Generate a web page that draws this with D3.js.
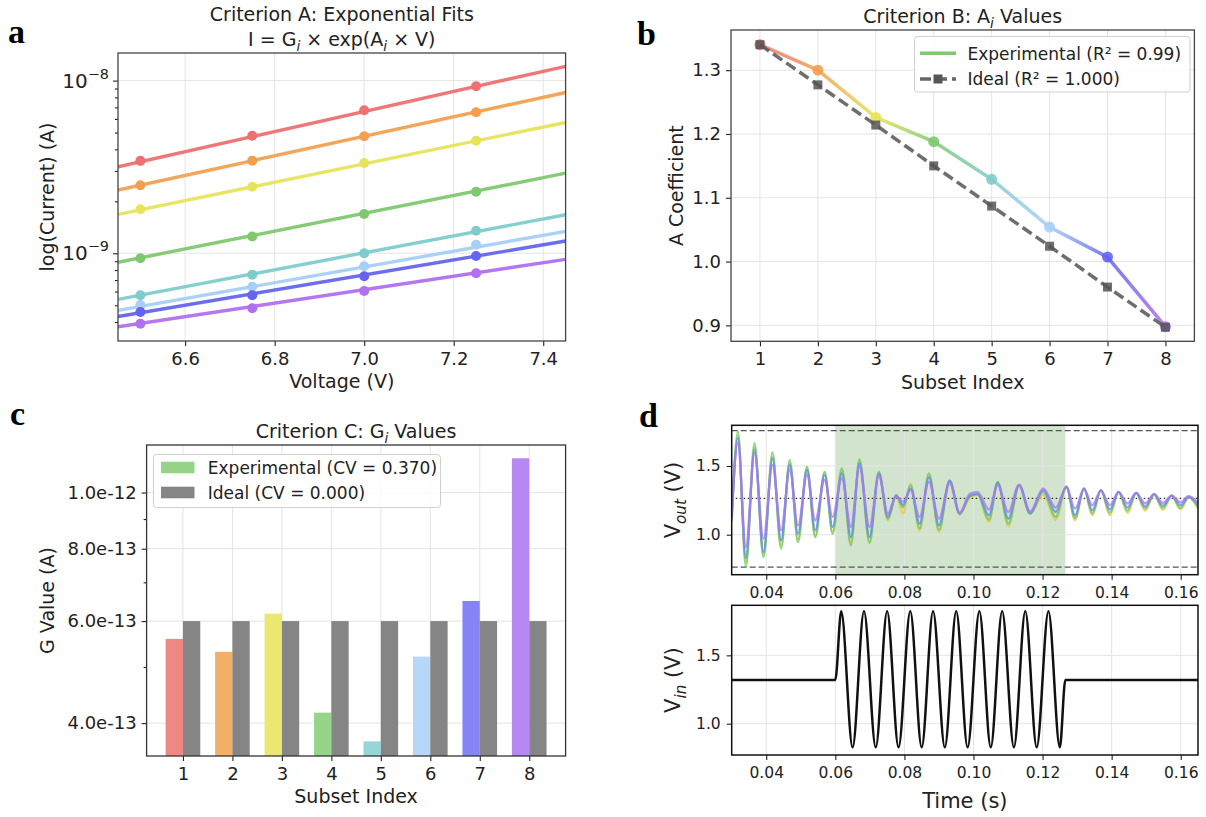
<!DOCTYPE html>
<html>
<head>
<meta charset="utf-8">
<script src="https://cdn.jsdelivr.net/npm/d3@7"></script>
<style>
  body { margin: 0; background: #fff; }
  svg { font-family: "DejaVu Sans", sans-serif; }
</style>
</head>
<body>
<svg id="fig" width="1206" height="817"></svg>
<script>
// ---- data ----
const subsets = [1, 2, 3, 4, 5, 6, 7, 8];
const voltages = [6.5, 6.75, 7.0, 7.25];
const voltTicks = [6.6, 6.8, 7.0, 7.2, 7.4];
// measured currents (A) per subset at each voltage
const currentPoints = [
  [3.43e-9, 4.80e-9, 6.74e-9, 9.28e-9],
  [2.48e-9, 3.44e-9, 4.76e-9, 6.56e-9],
  [1.80e-9, 2.43e-9, 3.33e-9, 4.48e-9],
  [9.35e-10, 1.25e-9, 1.69e-9, 2.27e-9],
  [5.71e-10, 7.52e-10, 1.00e-9, 1.35e-9],
  [5.01e-10, 6.40e-10, 8.41e-10, 1.12e-9],
  [4.57e-10, 5.71e-10, 7.36e-10, 9.64e-10],
  [3.91e-10, 4.80e-10, 6.05e-10, 7.66e-10]
];
const aExperimental = [1.340, 1.300, 1.226, 1.188, 1.129, 1.054, 1.007, 0.898];
const aIdeal = [1.340, 1.277, 1.214, 1.150, 1.087, 1.024, 0.960, 0.897];
const aTicks = [0.9, 1.0, 1.1, 1.2, 1.3];
const gExperimental = [5.59e-13, 5.31e-13, 6.18e-13, 4.17e-13, 3.72e-13, 5.21e-13, 6.50e-13, 1.146e-12];
const gIdeal = [6.0e-13, 6.0e-13, 6.0e-13, 6.0e-13, 6.0e-13, 6.0e-13, 6.0e-13, 6.0e-13];
const gTicks = [4e-13, 6e-13, 8e-13, 1e-12];
const gMinorTicks = [5e-13, 7e-13, 9e-13];

const lineColors = ["#ef7070", "#f2a050", "#e6e45a", "#80c870", "#80cccc", "#a8cff8", "#6464f0", "#b070f0"];
const barColors = ["#ee8883", "#f2b066", "#eae870", "#96d48a", "#96d6d6", "#b6d6fa", "#8484f4", "#b888f2"];

const timeTicks = [0.04, 0.06, 0.08, 0.10, 0.12, 0.14, 0.16];
const stimWindow = [0.06, 0.1266];
const voutRefLevels = [1.757, 0.764];
const voutMidLevel = 1.264;
const voutTimes = [0.0300, 0.0318, 0.0341, 0.0366, 0.0392, 0.0418, 0.0443, 0.0468, 0.0492, 0.0518,
  0.0542, 0.0569, 0.0592, 0.0619, 0.0645, 0.0670, 0.0699, 0.0726, 0.0752, 0.0776,
  0.0796, 0.0818, 0.0844, 0.0871, 0.0900, 0.0931, 0.0960, 0.0990, 0.1012, 0.1045,
  0.1070, 0.1101, 0.1132, 0.1164, 0.1202, 0.1238, 0.1269, 0.1294, 0.1320, 0.1344,
  0.1369, 0.1395, 0.1420, 0.1446, 0.1471, 0.1497, 0.1523, 0.1548, 0.1574, 0.1599,
  0.1623, 0.1650];
const voutYellow = [1.10, 1.72, 0.80, 1.64, 0.86, 1.57, 0.92, 1.52, 0.96, 1.48,
  0.99, 1.45, 1.02, 1.47, 0.94, 1.53, 0.95, 1.45, 1.105, 1.28,
  1.154, 1.37, 1.032, 1.43, 1.02, 1.385, 1.145, 1.27, 1.29, 1.093,
  1.38, 1.061, 1.355, 1.15, 1.29, 1.11, 1.345, 1.105, 1.335, 1.141,
  1.32, 1.141, 1.31, 1.159, 1.30, 1.175, 1.29, 1.18, 1.28, 1.185,
  1.27, 1.19];
const voutGreen = [1.10, 1.751, 0.763, 1.666, 0.837, 1.598, 0.898, 1.544, 0.946, 1.495,
  0.983, 1.459, 1.007, 1.483, 0.922, 1.549, 0.939, 1.459, 1.115, 1.290,
  1.200, 1.361, 1.045, 1.446, 1.035, 1.393, 1.152, 1.280, 1.295, 1.110,
  1.385, 1.080, 1.361, 1.155, 1.312, 1.130, 1.350, 1.120, 1.337, 1.155,
  1.324, 1.160, 1.312, 1.175, 1.305, 1.190, 1.295, 1.195, 1.285, 1.195,
  1.275, 1.200];
const voutBlue = [1.12, 1.702, 0.832, 1.617, 0.873, 1.556, 0.959, 1.507, 1.007, 1.471,
  1.032, 1.434, 1.056, 1.446, 0.983, 1.520, 0.983, 1.446, 1.129, 1.285,
  1.215, 1.337, 1.080, 1.417, 1.068, 1.393, 1.155, 1.285, 1.295, 1.141,
  1.375, 1.117, 1.361, 1.155, 1.324, 1.166, 1.350, 1.141, 1.337, 1.178,
  1.324, 1.183, 1.312, 1.198, 1.305, 1.205, 1.295, 1.210, 1.285, 1.215,
  1.275, 1.215];
const voutPurple = [1.15, 1.666, 0.910, 1.593, 0.971, 1.507, 1.032, 1.471, 1.068, 1.434,
  1.105, 1.398, 1.129, 1.410, 1.056, 1.495, 1.056, 1.427, 1.154, 1.280,
  1.239, 1.324, 1.129, 1.385, 1.117, 1.375, 1.160, 1.300, 1.310, 1.183,
  1.361, 1.166, 1.365, 1.170, 1.337, 1.198, 1.345, 1.190, 1.330, 1.215,
  1.320, 1.215, 1.310, 1.227, 1.305, 1.228, 1.295, 1.232, 1.285, 1.235,
  1.280, 1.235];
const voutSeries = [
  { color: "#e8c848", values: voutYellow },
  { color: "#6cc860", values: voutGreen },
  { color: "#5c8cf0", values: voutBlue },
  { color: "#a878f0", values: voutPurple }
];
const vinTimes = [0.030, 0.0600, 0.0617, 0.0650, 0.0683, 0.0717, 0.0750, 0.0783, 0.0817, 0.0850,
  0.0883, 0.0917, 0.0950, 0.0983, 0.1017, 0.1050, 0.1083, 0.1117, 0.1150, 0.1183,
  0.1217, 0.1250, 0.1266, 0.165];
const vinValues = [1.32, 1.32, 1.822, 0.827, 1.822, 0.827, 1.822, 0.827, 1.822, 0.827,
  1.822, 0.827, 1.822, 0.827, 1.822, 0.827, 1.822, 0.827, 1.822, 0.827,
  1.822, 0.827, 1.32, 1.32];
const vTicks = [1.0, 1.5];

// ---- helpers ----
const svg = d3.select("#fig");
const defs = svg.append("defs");

function addClip(id, b) {
  defs.append("clipPath").attr("id", id).append("rect")
    .attr("x", b.x0).attr("y", b.y0).attr("width", b.x1 - b.x0).attr("height", b.y1 - b.y0);
}
function frame(b, color, w) {
  svg.append("rect").attr("x", b.x0).attr("y", b.y0)
    .attr("width", b.x1 - b.x0).attr("height", b.y1 - b.y0)
    .attr("fill", "none").attr("stroke", color).attr("stroke-width", w);
}
function grid(b, xVals, xs, yVals, ys) {
  const g = svg.append("g").attr("stroke", "#e4e4e4").attr("stroke-width", 1);
  g.selectAll(".gx").data(xVals).enter().append("line")
    .attr("x1", d => xs(d)).attr("x2", d => xs(d)).attr("y1", b.y0).attr("y2", b.y1);
  g.selectAll(".gy").data(yVals).enter().append("line")
    .attr("y1", d => ys(d)).attr("y2", d => ys(d)).attr("x1", b.x0).attr("x2", b.x1);
}
function styleAxis(g, size, color) {
  g.attr("font-size", size).attr("font-family", "DejaVu Sans");
  g.select(".domain").remove();
  g.selectAll(".tick line").attr("stroke", color).attr("stroke-width", 1.1);
  g.selectAll(".tick text").attr("fill", color);
}
function richText(x, y, parts, size, anchor, rotate) {
  const t = svg.append("text").attr("font-size", size).attr("fill", "#222")
    .attr("text-anchor", anchor || "middle");
  if (rotate) t.attr("transform", `translate(${x},${y}) rotate(-90)`);
  else t.attr("x", x).attr("y", y);
  let shift = 0;
  parts.forEach(p => {
    const ts = t.append("tspan").text(p.t);
    const target = p.sub ? size * 0.28 : p.sup ? -size * 0.45 : 0;
    if (target - shift !== 0) ts.attr("dy", target - shift);
    shift = target;
    if (p.sub || p.sup) ts.attr("font-size", size * 0.72);
    if (p.it) ts.attr("font-style", "italic");
  });
  return t;
}
function panelLetter(x, y, s) {
  svg.append("text").attr("x", x).attr("y", y).text(s)
    .attr("font-family", "Liberation Serif, serif").attr("font-weight", "bold")
    .attr("font-size", 34).attr("fill", "#000");
}

// ---- panel a ----
const pa = { x0: 118, x1: 565.6, y0: 53, y1: 341 };
const xA = d3.scaleLinear().domain([6.45, 7.45]).range([pa.x0, pa.x1]);
const yA = d3.scaleLog().domain([Math.pow(10, -9.508), Math.pow(10, -7.84)]).range([pa.y1, pa.y0]);
const decades = [1e-9, 1e-8];
addClip("clipA", pa);
grid(pa, voltTicks, xA, decades, yA);

const gA = svg.append("g").attr("clip-path", "url(#clipA)");
const fitLine = d3.line().x(d => xA(d[0])).y(d => yA(d[1]));
subsets.forEach((s, i) => {
  const ends = xA.domain().map(v => [v, gExperimental[i] * Math.exp(aExperimental[i] * v)]);
  gA.append("path").attr("d", fitLine(ends)).attr("fill", "none")
    .attr("stroke", lineColors[i]).attr("stroke-width", 3.4).attr("opacity", 0.95);
  gA.selectAll(null).data(currentPoints[i]).enter().append("circle")
    .attr("cx", (d, j) => xA(voltages[j])).attr("cy", d => yA(d)).attr("r", 5)
    .attr("fill", lineColors[i]);
});

const axA = svg.append("g").attr("transform", `translate(0,${pa.y1})`)
  .call(d3.axisBottom(xA).tickValues(voltTicks).tickFormat(d3.format(".1f")).tickSize(5).tickPadding(6));
styleAxis(axA, 18, "#222");
const ayA = svg.append("g").attr("transform", `translate(${pa.x0},0)`)
  .call(d3.axisLeft(yA).tickValues(decades).tickFormat("").tickSize(5));
styleAxis(ayA, 18, "#222");
const minorA = yA.ticks().filter(v => decades.indexOf(v) < 0);
const ayAm = svg.append("g").attr("transform", `translate(${pa.x0},0)`)
  .call(d3.axisLeft(yA).tickValues(minorA).tickFormat("").tickSize(3));
styleAxis(ayAm, 18, "#222");
decades.forEach(v => {
  richText(pa.x0 - 9, yA(v) + 7, [{ t: "10" }, { t: "\u2212" === "" ? "" : "\u2212" + Math.round(-Math.log10(v)), sup: true }], 20, "end");
});
frame(pa, "#444", 1.3);
richText((pa.x0 + pa.x1) / 2, 20.7, [{ t: "Criterion A: Exponential Fits" }], 19);
richText((pa.x0 + pa.x1) / 2, 45.7, [{ t: "I = G" }, { t: "i", sub: true, it: true },
  { t: " \u00d7 exp(A" }, { t: "i", sub: true, it: true }, { t: " \u00d7 V)" }], 19);
richText((pa.x0 + pa.x1) / 2, 388, [{ t: "Voltage (V)" }], 19);
richText(54, (pa.y0 + pa.y1) / 2, [{ t: "log(Current) (A)" }], 19, "middle", true);
panelLetter(8, 43, "a");

// ---- panel b ----
const pb = { x0: 731, x1: 1194.4, y0: 30, y1: 341.3 };
const xB = d3.scaleLinear().domain([0.5, 8.5]).range([pb.x0, pb.x1]);
const yB = d3.scaleLinear().domain([0.875, 1.363]).range([pb.y1, pb.y0]);
grid(pb, subsets, xB, aTicks, yB);

subsets.slice(0, -1).forEach((s, i) => {
  const gr = defs.append("linearGradient").attr("id", "segB" + i)
    .attr("gradientUnits", "userSpaceOnUse")
    .attr("x1", xB(s)).attr("y1", yB(aExperimental[i]))
    .attr("x2", xB(s + 1)).attr("y2", yB(aExperimental[i + 1]));
  gr.append("stop").attr("offset", 0).attr("stop-color", lineColors[i]);
  gr.append("stop").attr("offset", 1).attr("stop-color", lineColors[i + 1]);
  svg.append("line")
    .attr("x1", xB(s)).attr("y1", yB(aExperimental[i]))
    .attr("x2", xB(s + 1)).attr("y2", yB(aExperimental[i + 1]))
    .attr("stroke", `url(#segB${i})`).attr("stroke-width", 3.5)
    .attr("stroke-linecap", "round").attr("opacity", 0.85);
});
svg.append("g").selectAll("circle").data(aExperimental).enter().append("circle")
  .attr("cx", (d, i) => xB(subsets[i])).attr("cy", d => yB(d)).attr("r", 5.5)
  .attr("fill", (d, i) => lineColors[i]).attr("opacity", 0.9);

const idealLine = d3.line().x((d, i) => xB(subsets[i])).y(d => yB(d));
svg.append("path").attr("d", idealLine(aIdeal)).attr("fill", "none")
  .attr("stroke", "#555").attr("stroke-width", 3.5).attr("stroke-dasharray", "11,5")
  .attr("opacity", 0.85);
svg.append("g").selectAll("rect").data(aIdeal).enter().append("rect")
  .attr("x", (d, i) => xB(subsets[i]) - 4.5).attr("y", d => yB(d) - 4.5)
  .attr("width", 9).attr("height", 9).attr("fill", "#555").attr("opacity", 0.85);

const axB = svg.append("g").attr("transform", `translate(0,${pb.y1})`)
  .call(d3.axisBottom(xB).tickValues(subsets).tickSize(5).tickPadding(6));
styleAxis(axB, 18, "#222");
const ayB = svg.append("g").attr("transform", `translate(${pb.x0},0)`)
  .call(d3.axisLeft(yB).tickValues(aTicks).tickFormat(d3.format(".1f")).tickSize(5).tickPadding(5));
styleAxis(ayB, 18, "#222");
frame(pb, "#444", 1.3);

// legend b
svg.append("rect").attr("x", 914.5).attr("y", 36.5).attr("width", 275.5).attr("height", 55.5)
  .attr("rx", 3).attr("fill", "#fff").attr("fill-opacity", 0.85).attr("stroke", "#d0d0d0");
svg.append("line").attr("x1", 920).attr("x2", 956).attr("y1", 53.3).attr("y2", 53.3)
  .attr("stroke", lineColors[3]).attr("stroke-width", 3.5);
svg.append("line").attr("x1", 920).attr("x2", 956).attr("y1", 79).attr("y2", 79)
  .attr("stroke", "#555").attr("stroke-width", 3.5).attr("stroke-dasharray", "11,5").attr("opacity", 0.9);
svg.append("rect").attr("x", 933.5).attr("y", 74.5).attr("width", 9).attr("height", 9).attr("fill", "#555");
richText(967.5, 59.5, [{ t: "Experimental (R\u00b2 = 0.99)" }], 17, "start");
richText(967.5, 85.2, [{ t: "Ideal (R\u00b2 = 1.000)" }], 17, "start");

richText((pb.x0 + pb.x1) / 2, 22.7, [{ t: "Criterion B: A" }, { t: "i", sub: true, it: true }, { t: " Values" }], 19);
richText((pb.x0 + pb.x1) / 2, 389, [{ t: "Subset Index" }], 19);
richText(683, (pb.y0 + pb.y1) / 2, [{ t: "A Coefficient" }], 19, "middle", true);
panelLetter(637, 45, "b");

// ---- panel c ----
const pc = { x0: 146.6, x1: 565.6, y0: 445, y1: 756 };
const xC = d3.scaleLinear().domain([0.265, 8.735]).range([pc.x0, pc.x1]);
const yC = d3.scaleLog().domain([3.51e-13, 1.208e-12]).range([pc.y1, pc.y0]);
const barW = 0.35;
grid(pc, subsets, xC, gTicks, yC);
addClip("clipC", pc);
const gC = svg.append("g").attr("clip-path", "url(#clipC)");
gC.selectAll(".be").data(gExperimental).enter().append("rect")
  .attr("x", (d, i) => xC(subsets[i] - barW)).attr("width", xC(barW) - xC(0))
  .attr("y", d => yC(d)).attr("height", d => pc.y1 - yC(d))
  .attr("fill", (d, i) => barColors[i]);
gC.selectAll(".bi").data(gIdeal).enter().append("rect")
  .attr("x", (d, i) => xC(subsets[i])).attr("width", xC(barW) - xC(0))
  .attr("y", d => yC(d)).attr("height", d => pc.y1 - yC(d))
  .attr("fill", "#858585");

const axC = svg.append("g").attr("transform", `translate(0,${pc.y1})`)
  .call(d3.axisBottom(xC).tickValues(subsets).tickSize(5).tickPadding(6));
styleAxis(axC, 18, "#222");
const ayC = svg.append("g").attr("transform", `translate(${pc.x0},0)`)
  .call(d3.axisLeft(yC).tickValues(gTicks).tickFormat(d3.format(".1e")).tickSize(5).tickPadding(5));
styleAxis(ayC, 18, "#222");
const ayCm = svg.append("g").attr("transform", `translate(${pc.x0},0)`)
  .call(d3.axisLeft(yC).tickValues(gMinorTicks).tickFormat("").tickSize(3));
styleAxis(ayCm, 18, "#222");
frame(pc, "#333", 1.3);

// legend c
svg.append("rect").attr("x", 153.5).attr("y", 454.5).attr("width", 287).attr("height", 53)
  .attr("rx", 3).attr("fill", "#fff").attr("fill-opacity", 0.85).attr("stroke", "#d0d0d0");
svg.append("rect").attr("x", 161).attr("y", 461.7).attr("width", 33.5).attr("height", 11.6).attr("fill", barColors[3]);
svg.append("rect").attr("x", 161).attr("y", 486.7).attr("width", 33.5).attr("height", 11.6).attr("fill", "#858585");
richText(207.8, 474, [{ t: "Experimental (CV = 0.370)" }], 17, "start");
richText(207.8, 499, [{ t: "Ideal (CV = 0.000)" }], 17, "start");

richText((pc.x0 + pc.x1) / 2, 437.7, [{ t: "Criterion C: G" }, { t: "i", sub: true, it: true }, { t: " Values" }], 19);
richText((pc.x0 + pc.x1) / 2, 803, [{ t: "Subset Index" }], 19);
richText(54, (pc.y0 + pc.y1) / 2, [{ t: "G Value (A)" }], 19, "middle", true);
panelLetter(10, 425, "c");

// ---- panel d ----
const pdT = { x0: 731.7, x1: 1198, y0: 425.3, y1: 574.7 };
const pdB = { x0: 731.7, x1: 1198, y0: 605.3, y1: 755 };
const xD = d3.scaleLinear().domain([0.03, 0.165]).range([pdT.x0, pdT.x1]);
const yDT = d3.scaleLinear().domain([0.709, 1.796]).range([pdT.y1, pdT.y0]);
const yDB = d3.scaleLinear().domain([0.771, 1.866]).range([pdB.y1, pdB.y0]);
addClip("clipDT", pdT);
addClip("clipDB", pdB);

svg.append("rect").attr("x", xD(stimWindow[0])).attr("y", pdT.y0)
  .attr("width", xD(stimWindow[1]) - xD(stimWindow[0])).attr("height", pdT.y1 - pdT.y0)
  .attr("fill", "#d2e4cd");
grid(pdT, timeTicks, xD, vTicks, yDT);
svg.selectAll(".refl").data(voutRefLevels).enter().append("line")
  .attr("x1", pdT.x0).attr("x2", pdT.x1).attr("y1", d => yDT(d)).attr("y2", d => yDT(d))
  .attr("stroke", "#555").attr("stroke-width", 1.4).attr("stroke-dasharray", "6,3");
svg.append("line").attr("x1", pdT.x0).attr("x2", pdT.x1)
  .attr("y1", yDT(voutMidLevel)).attr("y2", yDT(voutMidLevel))
  .attr("stroke", "#333").attr("stroke-width", 1.4).attr("stroke-dasharray", "1.5,2.5");

const gDT = svg.append("g").attr("clip-path", "url(#clipDT)");
const voutLine = d3.line().x((d, i) => xD(voutTimes[i])).y(d => yDT(d)).curve(d3.curveMonotoneX);
voutSeries.forEach(s => {
  gDT.append("path").attr("d", voutLine(s.values)).attr("fill", "none")
    .attr("stroke", s.color).attr("stroke-width", 2.3).attr("opacity", 0.75);
});
const axDT = svg.append("g").attr("transform", `translate(0,${pdT.y1})`)
  .call(d3.axisBottom(xD).tickValues(timeTicks).tickFormat(d3.format(".2f")).tickSize(5).tickPadding(7));
styleAxis(axDT, 15.5, "#222");
const ayDT = svg.append("g").attr("transform", `translate(${pdT.x0},0)`)
  .call(d3.axisLeft(yDT).tickValues(vTicks).tickFormat(d3.format(".1f")).tickSize(5).tickPadding(6));
styleAxis(ayDT, 15.5, "#222");
frame(pdT, "#111", 1.5);

grid(pdB, timeTicks, xD, vTicks, yDB);
const gDB = svg.append("g").attr("clip-path", "url(#clipDB)");
const vinLine = d3.line().x((d, i) => xD(vinTimes[i])).y(d => yDB(d)).curve(d3.curveMonotoneX);
gDB.append("path").attr("d", vinLine(vinValues)).attr("fill", "none")
  .attr("stroke", "#111").attr("stroke-width", 2.5);
const axDB = svg.append("g").attr("transform", `translate(0,${pdB.y1})`)
  .call(d3.axisBottom(xD).tickValues(timeTicks).tickFormat(d3.format(".2f")).tickSize(5).tickPadding(7));
styleAxis(axDB, 15.5, "#222");
const ayDB = svg.append("g").attr("transform", `translate(${pdB.x0},0)`)
  .call(d3.axisLeft(yDB).tickValues(vTicks).tickFormat(d3.format(".1f")).tickSize(5).tickPadding(6));
styleAxis(ayDB, 15.5, "#222");
frame(pdB, "#111", 1.5);

richText(680, (pdT.y0 + pdT.y1) / 2, [{ t: "V" }, { t: "out", sub: true, it: true }, { t: " (V)" }], 21, "middle", true);
richText(680, (pdB.y0 + pdB.y1) / 2, [{ t: "V" }, { t: "in", sub: true, it: true }, { t: " (V)" }], 21, "middle", true);
richText((pdB.x0 + pdB.x1) / 2, 808, [{ t: "Time (s)" }], 21);
panelLetter(639, 427, "d");
</script>
</body>
</html>
